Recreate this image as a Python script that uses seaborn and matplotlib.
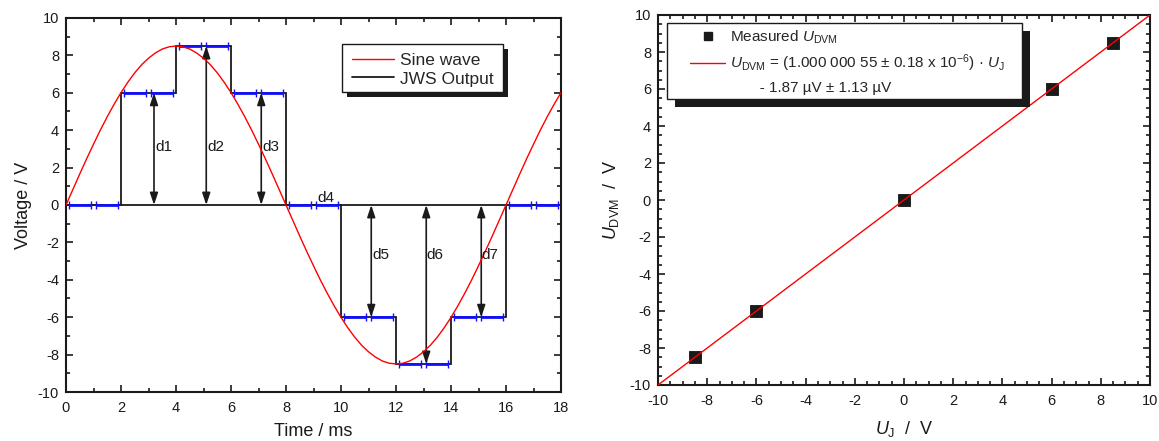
import matplotlib
matplotlib.use('Agg')
import matplotlib.pyplot as plt
import matplotlib.patheffects as pe
from matplotlib.ticker import MultipleLocator
from matplotlib.lines import Line2D
from matplotlib.patches import Rectangle
import seaborn as sns

# Sine wave (ms, V)
sine_t = [0, 0.25, 0.5, 0.75, 1, 1.25, 1.5, 1.75, 2, 2.25, 2.5, 2.75, 3, 3.25, 3.5, 3.75,
          4, 4.25, 4.5, 4.75, 5, 5.25, 5.5, 5.75, 6, 6.25, 6.5, 6.75, 7, 7.25, 7.5, 7.75,
          8, 8.25, 8.5, 8.75, 9, 9.25, 9.5, 9.75, 10, 10.25, 10.5, 10.75, 11, 11.25, 11.5,
          11.75, 12, 12.25, 12.5, 12.75, 13, 13.25, 13.5, 13.75, 14, 14.25, 14.5, 14.75,
          15, 15.25, 15.5, 15.75, 16, 16.25, 16.5, 16.75, 17, 17.25, 17.5, 17.75, 18]
sine_v = [0, 0.83, 1.66, 2.47, 3.25, 4.01, 4.72, 5.39, 6.01, 6.57, 7.07, 7.50, 7.85, 8.13,
          8.34, 8.46, 8.5, 8.46, 8.34, 8.13, 7.85, 7.50, 7.07, 6.57, 6.01, 5.39, 4.72, 4.01,
          3.25, 2.47, 1.66, 0.83, 0, -0.83, -1.66, -2.47, -3.25, -4.01, -4.72, -5.39, -6.01,
          -6.57, -7.07, -7.50, -7.85, -8.13, -8.34, -8.46, -8.5, -8.46, -8.34, -8.13, -7.85,
          -7.50, -7.07, -6.57, -6.01, -5.39, -4.72, -4.01, -3.25, -2.47, -1.66, -0.83, 0,
          0.83, 1.66, 2.47, 3.25, 4.01, 4.72, 5.39, 6.01]

# JWS staircase output
step_edges = [0, 2, 4, 6, 8, 10, 12, 14, 16, 18]
step_levels = [0, 6, 8.5, 6, 0, -6, -8.5, -6, 0]

# blue sample intervals (centre, level, half width)
sample_t = [0.5, 1.5, 2.5, 3.5, 4.5, 5.5, 6.5, 7.5, 8.5, 9.5, 10.5, 11.5, 12.5,
            13.5, 14.5, 15.5, 16.5, 17.5]
sample_v = [0, 0, 6, 6, 8.5, 8.5, 6, 6, 0, 0, -6, -6, -8.5, -8.5, -6, -6, 0, 0]
sample_halfwidth = 0.4

# difference arrows d1..d7
arrow_x = [3.2, 5.1, 7.1, 11.1, 13.1, 15.1]
arrow_v = [6, 8.5, 6, -6, -8.5, -6]
d_labels = ['d1', 'd2', 'd3', 'd4', 'd5', 'd6', 'd7']
d_label_x = [3.25, 5.15, 7.15, 9.15, 11.15, 13.1, 15.1]
d_label_y = [3.1, 3.1, 3.1, 0.4, -2.7, -2.7, -2.7]

# right panel: measured points and fit
uj = [-8.5, -6, 0, 6, 8.5]
udvm = [-8.5, -6, 0, 6, 8.5]
fit_x = [-10, 10]
fit_y = [-10, 10]

sns.set_theme(style='ticks')
plt.rcParams['font.family'] = ['Liberation Sans', 'DejaVu Sans']
plt.rcParams['mathtext.fontset'] = 'custom'
plt.rcParams['mathtext.rm'] = 'Liberation Sans'
plt.rcParams['mathtext.it'] = 'Liberation Sans:italic'
plt.rcParams['mathtext.bf'] = 'Liberation Sans:bold'
plt.rcParams['axes.unicode_minus'] = False

W, H = 1159, 441
fig = plt.figure(figsize=(W / 100, H / 100), dpi=100)
ax1 = fig.add_axes([66 / W, 1 - 392 / H, 495 / W, 374 / H])
ax2 = fig.add_axes([658 / W, 1 - 385 / H, 492 / W, 370 / H])


def style_axes(ax, minor):
    for axis in (ax.xaxis, ax.yaxis):
        axis.set_major_locator(MultipleLocator(2))
        axis.set_minor_locator(MultipleLocator(minor))
    ax.tick_params(which='both', direction='in', top=True, right=True,
                   colors='k', labelcolor='k', width=1.2, labelsize=10.5, pad=5)
    ax.tick_params(axis='x', which='both', pad=6.5)
    ax.tick_params(which='major', length=5)
    ax.tick_params(which='minor', length=3)
    for s in ax.spines.values():
        s.set_linewidth(1.5)
        s.set_color('k')


def boxed_legend(ax, handles, labels, frame, anchor, shadow_pt, **kw):
    # Origin-style legend: white box with a solid black drop shadow
    x0, x1, yb, yt = frame
    box = Rectangle((x0, yb), x1 - x0, yt - yb, transform=ax.transAxes, fc='w', ec='k',
                    lw=1, zorder=6, clip_on=False)
    box.set_path_effects([pe.SimplePatchShadow(offset=(shadow_pt, -shadow_pt),
                                               shadow_rgbFace='k', alpha=1), pe.Normal()])
    ax.add_patch(box)
    leg = ax.legend(handles, labels, loc='upper left', bbox_to_anchor=anchor,
                    borderaxespad=0, borderpad=0, frameon=False, **kw)
    leg.set_zorder(7)
    return leg


# ---- left panel ----
ax1.axhline(0, color='k', lw=1.3, zorder=2)
ax1.stairs(step_levels, step_edges, baseline=None, color='k', lw=1.3, zorder=2)
ax1.errorbar(sample_t, sample_v, xerr=sample_halfwidth, fmt='none', ecolor='#1010ff',
             elinewidth=2, capsize=3, capthick=1, zorder=3)
sns.lineplot(x=sine_t, y=sine_v, color='red', lw=1, sort=False, ax=ax1, zorder=4)

for x, v in zip(arrow_x, arrow_v):
    ax1.annotate('', xy=(x, v), xytext=(x, 0),
                 arrowprops=dict(arrowstyle='<|-|>,head_length=0.6,head_width=0.2',
                                 color='k', lw=1.2, shrinkA=0, shrinkB=0), zorder=3)
for lab, x, y in zip(d_labels, d_label_x, d_label_y):
    ax1.text(x, y, lab, fontsize=11, ha='left', va='center', color='k', zorder=5)

ax1.set_xlim(0, 18)
ax1.set_ylim(-10, 10)
style_axes(ax1, 1)
ax1.set_xlabel('Time / ms', fontsize=13, color='k', labelpad=6)
ax1.set_ylabel('Voltage / V', fontsize=13, color='k', labelpad=4)

h1 = [Line2D([], [], color='red', lw=1), Line2D([], [], color='k', lw=1.3)]
boxed_legend(ax1, h1, ['Sine wave', 'JWS Output'],
             frame=(0.5576, 0.883, 0.803, 0.931), anchor=(0.578, 0.907), shadow_pt=3.5,
             fontsize=12.5, handlelength=2.4, handletextpad=0.36, labelspacing=0.2)

# ---- right panel ----
sns.scatterplot(x=uj, y=udvm, marker='s', s=64, color='k', edgecolor='k', ax=ax2, zorder=2)
sns.lineplot(x=fit_x, y=fit_y, color='red', lw=1, ax=ax2, zorder=3)
ax2.set_xlim(-10, 10)
ax2.set_ylim(-10, 10)
style_axes(ax2, 0.5)
ax2.set_xlabel(r'$U_{\mathrm{J}}$  /  V', fontsize=13, color='k', labelpad=8)
ax2.set_ylabel(r'$U_{\mathrm{DVM}}$  /  V', fontsize=13, color='k', labelpad=6)

h2 = [Line2D([], [], ls='none', marker='s', color='k', markersize=6),
      Line2D([], [], color='red', lw=1),
      Line2D([], [], ls='none')]
l2 = [r'Measured $U_{\mathrm{DVM}}$',
      r'$U_{\mathrm{DVM}}$ = (1.000 000 55 ± 0.18 x 10$^{-6}$) · $U_{\mathrm{J}}$',
      '       - 1.87 µV ± 1.13 µV']
boxed_legend(ax2, h2, l2, frame=(0.0183, 0.740, 0.773, 0.978), anchor=(0.065, 0.964),
             shadow_pt=5.5, fontsize=11, handlelength=2.3, handletextpad=0.33,
             labelspacing=0.45)

fig.savefig('out.png', dpi=100)
